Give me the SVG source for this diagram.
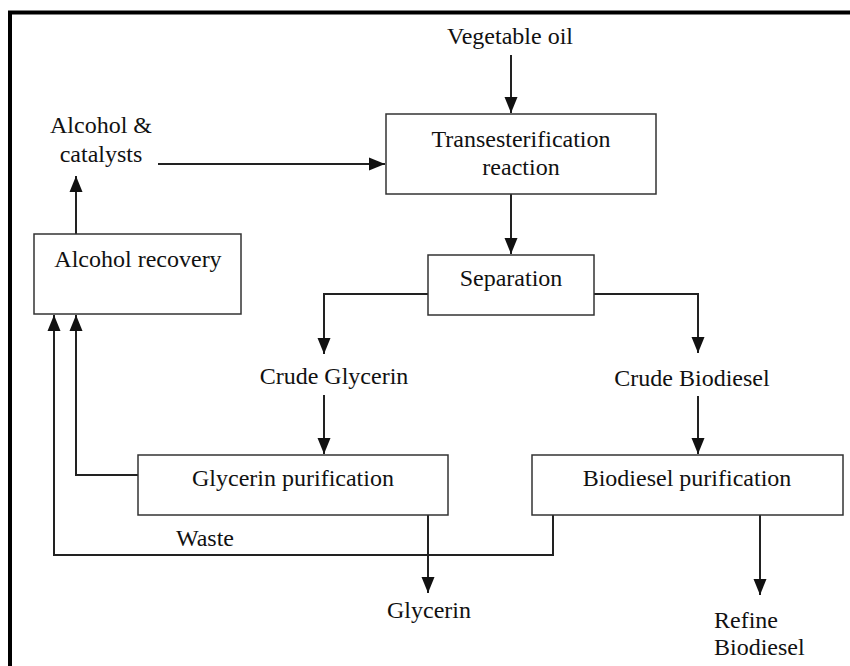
<svg xmlns="http://www.w3.org/2000/svg" width="850" height="666" viewBox="0 0 850 666">
<defs>
<marker id="ah" markerWidth="16" markerHeight="14" viewBox="0 0 16 14" refX="16" refY="7" orient="auto" markerUnits="userSpaceOnUse">
<path d="M0,0.5 L16,7 L0,13.5 Z" fill="#111"/>
</marker>
<style>
.box{fill:#fff;stroke:#333;stroke-width:1.5}
.lbl{font-size:24px;fill:#111;text-anchor:middle}
.arr{fill:none;stroke:#222;stroke-width:2;marker-end:url(#ah)}
</style>
</defs>
<rect x="0" y="0" width="850" height="666" fill="#fff"/>
<rect x="10" y="12.5" width="845" height="665" fill="none" stroke="#000" stroke-width="4"/>

<g id="connectors">
<path class="arr" d="M511,55 V113"/>
<path class="arr" d="M511,194 V254"/>
<path class="arr" d="M158,164 H385"/>
<path class="arr" d="M428,294 H324 V354"/>
<path class="arr" d="M594,294 H698 V353"/>
<path class="arr" d="M324,395 V454"/>
<path class="arr" d="M698,396 V454"/>
<path class="arr" d="M428,515 V593"/>
<path class="arr" d="M760,515 V595"/>
<path class="arr" d="M76,234 V176"/>
<path class="arr" d="M138,475 H76 V315"/>
<path class="arr" d="M553,515 V555 H54 V315"/>
</g>

<g font-family="'Liberation Serif', 'Times New Roman', Times, 'Nimbus Roman', 'DejaVu Serif', serif">
<g id="vegetable-oil"><text class="lbl" x="510" y="44">Vegetable oil</text></g>
<g id="transesterification">
<rect class="box" x="386" y="114" width="270" height="80"/>
<text class="lbl" x="521" y="147">Transesterification</text>
<text class="lbl" x="521" y="175">reaction</text>
</g>
<g id="alcohol-catalysts">
<text class="lbl" x="101" y="133">Alcohol &amp;</text>
<text class="lbl" x="101" y="162">catalysts</text>
</g>
<g id="alcohol-recovery">
<rect class="box" x="34" y="234" width="207" height="80"/>
<text class="lbl" x="138" y="267">Alcohol recovery</text>
</g>
<g id="separation">
<rect class="box" x="428" y="255" width="166" height="60"/>
<text class="lbl" x="511" y="286">Separation</text>
</g>
<g id="crude-glycerin"><text class="lbl" x="334" y="384">Crude Glycerin</text></g>
<g id="crude-biodiesel"><text class="lbl" x="692" y="386">Crude Biodiesel</text></g>
<g id="glycerin-purification">
<rect class="box" x="138" y="455" width="310" height="60"/>
<text class="lbl" x="293" y="486">Glycerin purification</text>
</g>
<g id="biodiesel-purification">
<rect class="box" x="532" y="455" width="311" height="60"/>
<text class="lbl" x="687" y="486">Biodiesel purification</text>
</g>
<g id="waste"><text class="lbl" x="205" y="546">Waste</text></g>
<g id="glycerin"><text class="lbl" x="429" y="618">Glycerin</text></g>
<g id="refine-biodiesel">
<text class="lbl" x="714" y="628" text-anchor="start" style="text-anchor:start">Refine</text>
<text class="lbl" x="714" y="655" text-anchor="start" style="text-anchor:start">Biodiesel</text>
</g>
</g>
</svg>
